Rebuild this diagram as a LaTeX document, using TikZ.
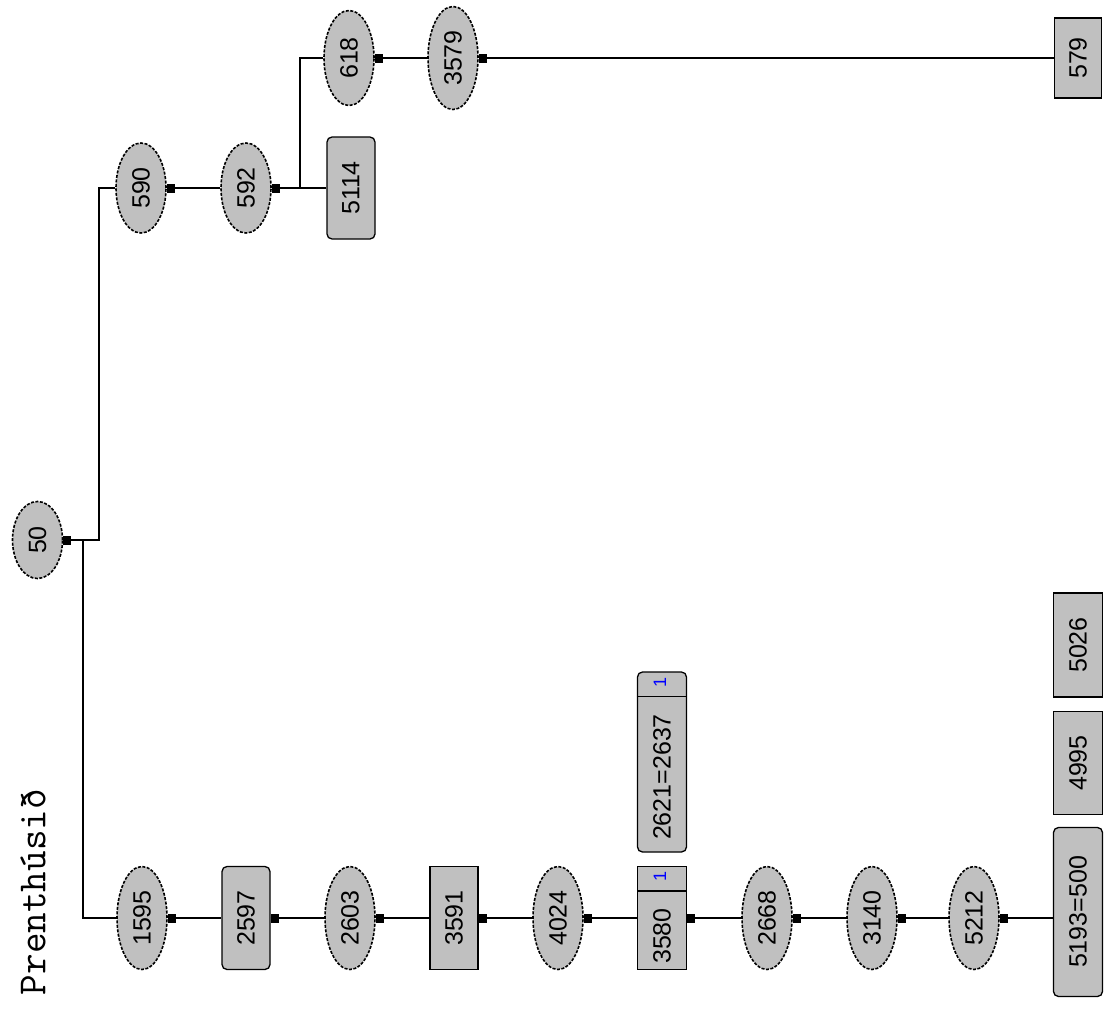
\documentclass[tikz,border=0pt]{standalone}
\usepackage{fontspec}
\setmainfont{Liberation Sans}
\usetikzlibrary{shapes.geometric,calc}
\definecolor{nodefill}{RGB}{192,192,192}
\definecolor{markblue}{RGB}{0,0,255}
\tikzset{
  base/.style={draw, fill=nodefill, line width=1.3pt, inner sep=0pt,
    font=\fontsize{25}{25}\selectfont},
  oval/.style={base, ellipse, line width=1.6pt, dash pattern=on 3pt off 1.5pt, minimum width=50pt},
  plainbox/.style={base, rectangle, minimum width=48pt},
  cutbox/.style={base, rectangle, rounded corners=5pt, minimum width=48pt},
  link/.style={line width=1.4pt},
  bluemark/.style={text=markblue, inner sep=0pt, font=\fontsize{18}{18}\selectfont},
}
\begin{document}
\begin{tikzpicture}[x=1pt, y=-1pt]
\useasboundingbox (0,0) rectangle (1104,1012);

% title
\node[font=\ttfamily\fontsize{40}{40}\selectfont, inner sep=0pt] (title) at (33,892) {\rotatebox{90}{Prenthúsið}};

% upper branch
\node[oval, minimum height=77pt] (n50) at (37.5,540) {\rotatebox{90}{50}};
\node[oval, minimum height=90pt] (n590) at (141,188) {\rotatebox{90}{590}};
\node[oval, minimum height=90pt] (n592) at (246,188) {\rotatebox{90}{592}};
\node[cutbox, minimum height=102pt] (n5114) at (351,188) {\rotatebox{90}{5114}};
\node[oval, minimum height=95pt] (n618) at (349,58) {\rotatebox{90}{618}};
\node[oval, minimum height=103pt] (n3579) at (453,58) {\rotatebox{90}{3579}};
\node[plainbox, minimum width=47pt, minimum height=80pt] (n579) at (1078,58) {\rotatebox{90}{579}};

% lower chain
\node[oval, minimum height=103pt] (n1595) at (142,918) {\rotatebox{90}{1595}};
\node[cutbox, minimum height=103pt] (n2597) at (246,918) {\rotatebox{90}{2597}};
\node[oval, minimum height=103pt] (n2603) at (350,918) {\rotatebox{90}{2603}};
\node[plainbox, minimum height=103pt] (n3591) at (454,918) {\rotatebox{90}{3591}};
\node[oval, minimum height=103pt] (n4024) at (558,918) {\rotatebox{90}{4024}};
\node[plainbox, minimum width=49pt, minimum height=103pt] (n3580) at (662,918) {\rotatebox{90}{3580\hspace*{36pt}}};
\node[oval, minimum height=103pt] (n2668) at (767,918) {\rotatebox{90}{2668}};
\node[oval, minimum height=103pt] (n3140) at (872,918) {\rotatebox{90}{3140}};
\node[oval, minimum height=103pt] (n5212) at (974,918) {\rotatebox{90}{5212}};
\node[cutbox, minimum width=49pt, minimum height=169pt] (n5193) at (1078,912) {\rotatebox{90}{5193=500}};

% free nodes
\node[cutbox, minimum width=49pt, minimum height=180pt] (n2621) at (662,762) {\rotatebox{90}{2621=2637\hspace*{30pt}}};
\node[plainbox, minimum width=49pt, minimum height=103pt] (n4995) at (1078,763) {\rotatebox{90}{4995}};
\node[plainbox, minimum width=49pt, minimum height=104pt] (n5026) at (1078,645) {\rotatebox{90}{5026}};

% header strips with blue marks
\draw[line width=1.3pt] ($(n3580.north west)+(0,25)$) -- ($(n3580.north east)+(0,25)$);
\node[bluemark] (m3580) at ($(n3580.north)+(-2,11)$) {\rotatebox{90}{1}};
\draw[line width=1.3pt] ($(n2621.north west)+(0,25)$) -- ($(n2621.north east)+(0,25)$);
\node[bluemark] (m2621) at ($(n2621.north)+(-2,11)$) {\rotatebox{90}{1}};

% junctions
\coordinate (j1) at (99,540);
\coordinate (j2) at (83,540);
\coordinate (j3) at (300,188);

% connectors
\draw[link] (n50.east) -- (j1) |- (n590.west);
\draw[link] (j2) |- (n1595.west);
\draw[link] (n590.east) -- (n592.west);
\draw[link] (n592.east) -- (n5114.west);
\draw[link] (j3) |- (n618.west);
\draw[link] (n618.east) -- (n3579.west);
\draw[link] (n3579.east) -- (n579.west);
\draw[link] (n1595.east) -- (n2597.west);
\draw[link] (n2597.east) -- (n2603.west);
\draw[link] (n2603.east) -- (n3591.west);
\draw[link] (n3591.east) -- (n4024.west);
\draw[link] (n4024.east) -- (n3580.west);
\draw[link] (n3580.east) -- (n2668.west);
\draw[link] (n2668.east) -- (n3140.west);
\draw[link] (n3140.east) -- (n5212.west);
\draw[link] (n5212.east) -- (n5212.east -| n5193.west);

% start markers
\foreach \n in {n50,n590,n592,n618,n3579,n1595,n2597,n2603,n3591,n4024,n3580,n2668,n3140,n5212}
  \fill (\n.east) ++(0,-4.5) rectangle ++(8,9);
\end{tikzpicture}
\end{document}
